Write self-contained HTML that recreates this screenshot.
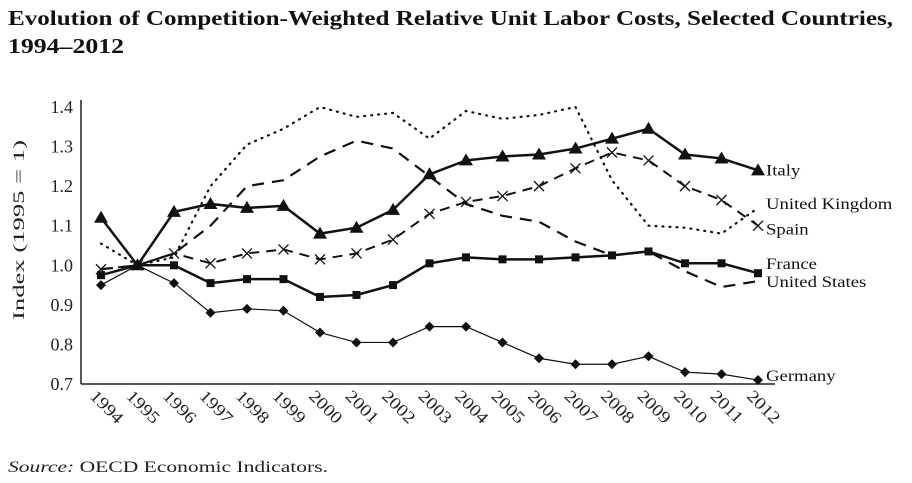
<!DOCTYPE html>
<html><head><meta charset="utf-8"><style>
body{margin:0;background:#fff;width:912px;height:478px;overflow:hidden;font-family:"Liberation Serif",serif;}
</style></head><body>
<svg width="912" height="478" xmlns="http://www.w3.org/2000/svg" font-family="Liberation Serif, serif">
<text x="8" y="25" font-size="21" font-weight="bold" fill="#111" textLength="885" lengthAdjust="spacingAndGlyphs">Evolution of Competition-Weighted Relative Unit Labor Costs, Selected Countries,</text>
<text x="8" y="53" font-size="21" font-weight="bold" fill="#111" textLength="116" lengthAdjust="spacingAndGlyphs">1994–2012</text>
<text x="8" y="472" font-size="16" fill="#222" textLength="320" lengthAdjust="spacingAndGlyphs"><tspan font-style="italic">Source:</tspan> OECD Economic Indicators.</text>
<text transform="translate(24,230) rotate(-90)" text-anchor="middle" font-size="16" fill="#222" textLength="180" lengthAdjust="spacingAndGlyphs">Index (1995 = 1)</text>
<g id="plot"></g>
</svg>
<script>
const years=[1994,1995,1996,1997,1998,1999,2000,2001,2002,2003,2004,2005,2006,2007,2008,2009,2010,2011,2012];
const yTicks=[0.7,0.8,0.9,1.0,1.1,1.2,1.3,1.4];
const italy=[1.12,1.0,1.135,1.155,1.145,1.15,1.08,1.095,1.14,1.23,1.265,1.275,1.28,1.295,1.32,1.345,1.28,1.27,1.24];
const spain=[0.99,1.0,1.03,1.005,1.03,1.04,1.015,1.03,1.065,1.13,1.16,1.175,1.2,1.245,1.285,1.265,1.2,1.165,1.1];
const france=[0.975,1.0,1.0,0.955,0.965,0.965,0.92,0.925,0.95,1.005,1.02,1.015,1.015,1.02,1.025,1.035,1.005,1.005,0.98];
const germany=[0.95,1.0,0.955,0.88,0.89,0.885,0.83,0.805,0.805,0.845,0.845,0.805,0.765,0.75,0.75,0.77,0.73,0.725,0.71];
const uk=[1.055,1.0,1.02,1.2,1.305,1.345,1.4,1.375,1.385,1.32,1.39,1.37,1.38,1.4,1.215,1.1,1.095,1.08,1.145];
const us=[0.99,1.0,1.03,1.1,1.2,1.215,1.275,1.315,1.295,1.225,1.155,1.125,1.11,1.06,1.025,1.035,0.985,0.945,0.96];
const NS='http://www.w3.org/2000/svg';
const g=document.getElementById('plot');
const X0=101,X1=758,YB=384,YT=107;
const x=i=>X0+(X1-X0)*i/(years.length-1);
const y=v=>YB-(v-0.7)/(1.4-0.7)*(YB-YT);
function mk(t,a){const e=document.createElementNS(NS,t);for(const k in a)e.setAttribute(k,a[k]);g.appendChild(e);return e;}
function stretch(t,f){const L=t.getComputedTextLength();t.setAttribute('textLength',L*f);t.setAttribute('lengthAdjust','spacingAndGlyphs');}
let e=mk('line',{x1:81,y1:100,x2:81,y2:YB,stroke:'#222','stroke-width':1.5});


e=mk('line',{x1:81,y1:YB,x2:775,y2:YB,stroke:'#222','stroke-width':1.5});


yTicks.forEach(v=>{const t=mk('text',{x:73,y:y(v)+6,'text-anchor':'end','font-size':18,fill:'#222'});t.textContent=v.toFixed(1);

});
years.forEach((yr,i)=>{const t=mk('text',{transform:`translate(${x(i)-12},${YB+13}) rotate(45)`,'font-size':17,fill:'#222'});t.textContent=yr;


stretch(t,1.15);});
function series(data,name,dash,w,marker){
  const p=mk('polyline',{points:data.map((v,i)=>x(i)+','+y(v)).join(' '),fill:'none',stroke:'#111','stroke-width':w,'stroke-dasharray':dash,'stroke-linecap':dash==='1 6'?'round':'butt'});
  
  
  if(!marker)return;
  data.forEach((v,i)=>{const cx=x(i),cy=y(v);let m;
    if(marker==='tri')m=mk('polygon',{points:`${cx},${cy-7} ${cx-7},${cy+5} ${cx+7},${cy+5}`,fill:'#111'});
    else if(marker==='sq')m=mk('rect',{x:cx-4,y:cy-4,width:8,height:8,fill:'#111'});
    else if(marker==='dia')m=mk('polygon',{points:`${cx},${cy-5} ${cx+5},${cy} ${cx},${cy+5} ${cx-5},${cy}`,fill:'#111'});
    else m=mk('path',{d:`M${cx-5},${cy-5}L${cx+5},${cy+5}M${cx-5},${cy+5}L${cx+5},${cy-5}`,stroke:'#111','stroke-width':1.3});
    
    });
}
series(uk,'united-kingdom','1 6',2.2,null);
series(us,'united-states','12 8',2.2,null);
series(spain,'spain','10 7',2,'x');
series(germany,'germany','',1.2,'dia');
series(france,'france','',2.5,'sq');
series(italy,'italy','',2.5,'tri');
const labels=[['Italy',italy,8,0],['United Kingdom',uk,8,-4],['Spain',spain,8,4],['France',france,8,-9],['United States',us,8,1],['Germany',germany,8,-4]];
labels.forEach(([n,d,dx,dy])=>{const v=d[d.length-1];const t=mk('text',{x:x(d.length-1)+dx,y:y(v)+dy+5,'font-size':16,fill:'#111'});t.textContent=n;


stretch(t,1.17);});
</script>
</body></html>
